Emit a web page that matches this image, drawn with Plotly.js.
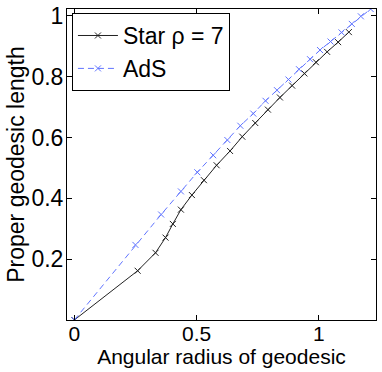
<!DOCTYPE html>
<html>
<head>
<meta charset="utf-8">
<script src="https://cdn.plot.ly/plotly-3.0.1.min.js"></script>
<style>
  body { margin: 0; background: #fff; }
  #graph { width: 382px; height: 372px; }
</style>
</head>
<body>
<div id="graph"></div>
<script>
// star rho = 7
var starX = [0, 0.259, 0.332, 0.373, 0.403, 0.436, 0.481, 0.530, 0.582, 0.637, 0.687,
  0.740, 0.792, 0.841, 0.891, 0.941, 0.988, 1.034, 1.079, 1.123]
var starY = [0, 0.162, 0.221, 0.271, 0.316, 0.363, 0.411, 0.460, 0.509, 0.556, 0.603,
  0.648, 0.692, 0.732, 0.771, 0.811, 0.848, 0.882, 0.914, 0.947]

// pure AdS
var adsX = [0, 0.250, 0.355, 0.436, 0.503, 0.568, 0.626, 0.679, 0.732, 0.782, 0.829,
  0.876, 0.919, 0.964, 1.005, 1.048, 1.093, 1.135, 1.172, 1.212]
var adsY = [0, 0.247, 0.347, 0.423, 0.486, 0.542, 0.592, 0.639, 0.679, 0.721, 0.756,
  0.791, 0.825, 0.858, 0.888, 0.916, 0.946, 0.974, 0.999, 1.023]

var xTicks = [0, 0.5, 1]
var xTickText = ['0', '0.5', '1']
var yTicks = [0.2, 0.4, 0.6, 0.8, 1]
var yTickText = ['0.2', '0.4', '0.6', '0.8', '1']

var font = 'Liberation Sans, Arial, sans-serif'

var trace1 = {
  type: 'scatter',
  mode: 'lines+markers',
  name: 'Star ρ = 7',
  x: starX,
  y: starY,
  line: { color: '#222', width: 1 },
  marker: { symbol: 'x-thin', size: 6, line: { color: '#222', width: 1 } }
}

var trace2 = {
  type: 'scatter',
  mode: 'lines+markers',
  name: 'AdS',
  x: adsX,
  y: adsY,
  line: { color: '#6074ff', width: 1, dash: '6px,4px' },
  marker: { symbol: 'x-thin', size: 6, line: { color: '#6074ff', width: 1 } }
}

var axisCommon = {
  showgrid: false,
  zeroline: false,
  showline: true,
  linecolor: '#000',
  linewidth: 1,
  mirror: 'ticks',
  ticks: 'inside',
  ticklen: 5,
  tickcolor: '#000',
  tickfont: { family: font, size: 23, color: '#000' }
}

var layout = {
  width: 382,
  height: 372,
  margin: { l: 67, r: 6, t: 9, b: 52 },
  paper_bgcolor: '#fff',
  plot_bgcolor: '#fff',
  font: { family: font, color: '#000' },
  xaxis: Object.assign({}, axisCommon, {
    range: [-0.03, 1.234],
    tickvals: xTicks,
    ticktext: xTickText,
    tickfont: { family: font, size: 21, color: '#000' },
    ticklabelstandoff: -5,
    title: { text: 'Angular radius of geodesic', font: { family: font, size: 21 }, standoff: 4 }
  }),
  yaxis: Object.assign({}, axisCommon, {
    range: [0, 1.023],
    tickvals: yTicks,
    ticktext: yTickText,
    ticklabelstandoff: -2,
    title: { text: 'Proper geodesic length', font: { family: font, size: 23 }, standoff: 0 }
  }),
  showlegend: true,
  legend: {
    x: 0.016,
    y: 0.987,
    xanchor: 'left',
    yanchor: 'top',
    bgcolor: '#fff',
    bordercolor: '#000',
    borderwidth: 1,
    font: { family: font, size: 23, color: '#000' },
    itemwidth: 40,
    tracegroupgap: 0
  }
}

Plotly.newPlot('graph', [trace1, trace2], layout, { displayModeBar: false, staticPlot: true })
</script>
</body>
</html>
